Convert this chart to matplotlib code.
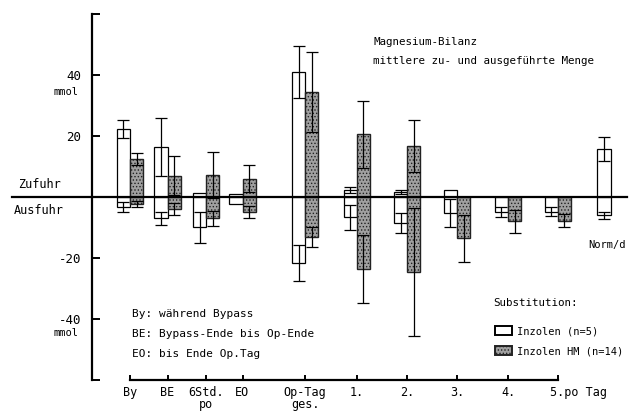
import numpy as np
import matplotlib
matplotlib.use("Agg")
from matplotlib import pyplot as plt
from matplotlib.transforms import ScaledTranslation

# Magnesium-Bilanz: Zufuhr (positiv) und Ausfuhr (negativ), Mittelwert +- SD
kategorien = ['By', 'BE', '6Std.\npo', 'EO', 'Op-Tag\nges.', '1.', '2.', '3.', '4.', '5.po Tag']
xpos = [0, 1, 2.03, 3, 4.67, 6.05, 7.39, 8.72, 10.08, 11.41]

# Inzolen (n=5)
inz_zu = [22.3, 16.4, 1.3, 1.0, 41.0, 2.3, 1.6, 2.3, 0.0, 0.0]
inz_zu_sd = [3.0, 9.5, 0.0, 0.0, 8.5, 1.0, 0.7, 0.0, 0.0, 0.0]
inz_aus = [-3.3, -7.0, -10.0, -2.3, -21.6, -6.7, -8.5, -5.3, -5.0, -4.8]
inz_aus_sd = [1.5, 2.2, 5.0, 0.0, 6.0, 4.0, 3.2, 4.5, 1.7, 1.5]

# Inzolen HM (n=14)
hm_zu = [12.5, 7.0, 7.3, 6.0, 34.4, 20.6, 16.7, 0.0, 0.0, 0.0]
hm_zu_sd = [2.0, 6.5, 7.5, 4.5, 13.0, 11.0, 8.5, 0.0, 0.0, 0.0]
hm_aus = [-2.3, -4.0, -7.0, -5.0, -13.0, -23.6, -24.6, -13.5, -8.0, -7.8]
hm_aus_sd = [1.0, 2.0, 2.5, 2.0, 3.3, 11.0, 21.0, 7.7, 3.7, 2.2]

# Norm pro Tag
norm_x = 12.64
norm_zu, norm_zu_sd = 15.7, 3.9
norm_aus, norm_aus_sd = -6.0, 1.2

yticks = [-60, -40, -20, 0, 20, 40, 60]
ylabels = ['', '-40', '-20', '', '20', '40', '']

#================================
#        figura
#================================
W, H = 630, 418
plt.rcParams['font.family'] = ['DejaVu Sans Mono']
plt.rcParams['hatch.linewidth'] = 0.6
fig = plt.figure(figsize=(W / 100., H / 100.), dpi=100)
ax = fig.add_axes([0, 0, 1, 1])

# 1 unita' x = 37.5 px, 1 mmol = 3.05 px, origine in (130, 197) px
ax.set_xlim(-130 / 37.5, (W - 130) / 37.5)
ax.set_ylim((197 - H) / 3.05, 197 / 3.05)

def px(x, y):
    # pixel -> frazione di figura
    return x / W, 1 - y / H

w = 0.35
xx = np.array(xpos)
ekw = dict(fmt='none', ecolor='black', elinewidth=0.9, capsize=4.5, capthick=0.9)

# barre aperte (Inzolen)
for vals, sds in [(inz_zu, inz_zu_sd), (inz_aus, inz_aus_sd)]:
    ax.bar(xx - w / 2, vals, w, facecolor='white', edgecolor='black', linewidth=0.9, zorder=2)
    m = np.array(sds) > 0
    ax.errorbar((xx - w / 2)[m], np.array(vals)[m], yerr=np.array(sds)[m], zorder=3, **ekw)

# barre tratteggiate (Inzolen HM)
for vals, sds in [(hm_zu, hm_zu_sd), (hm_aus, hm_aus_sd)]:
    ax.bar(xx + w / 2, vals, w, facecolor='#a0a0a0', edgecolor='#222222', hatch='.....',
           linewidth=1.0, zorder=2)
    m = np.array(sds) > 0
    ax.errorbar((xx + w / 2)[m], np.array(vals)[m], yerr=np.array(sds)[m], zorder=3, **ekw)

# norma
ax.bar([norm_x, norm_x], [norm_zu, norm_aus], w * 1.05, facecolor='white', edgecolor='black',
       linewidth=0.9, zorder=2)
ax.errorbar([norm_x, norm_x], [norm_zu, norm_aus], yerr=[norm_zu_sd, norm_aus_sd], zorder=3, **ekw)

# linea dello zero
ax.plot([(12 - 130) / 37.5, (627 - 130) / 37.5], [0, 0], color='black', lw=1.6, zorder=4)

# assi
for s in ['top', 'right']:
    ax.spines[s].set_visible(False)
ax.spines['left'].set_position(('data', (92 - 130) / 37.5))
ax.spines['left'].set_bounds(-60, 60)
ax.spines['left'].set_linewidth(1.6)
ax.spines['bottom'].set_position(('data', -60))
ax.spines['bottom'].set_bounds(xpos[0], xpos[-1])
ax.spines['bottom'].set_linewidth(1.6)

ax.set_yticks(yticks, ylabels)
ax.tick_params(axis='y', direction='in', length=6, width=1.4, pad=8, labelsize=9)
ax.set_xticks(xpos, kategorien)
ax.tick_params(axis='x', direction='in', length=3.5, width=1.4, pad=4, labelsize=8.5)
for lab in ax.get_xticklabels():
    lab.set_linespacing(0.95)
last = ax.get_xticklabels()[-1]
last.set_horizontalalignment('left')
last.set_transform(last.get_transform() + ScaledTranslation(-8 / 100., 0, fig.dpi_scale_trans))

# testi
fig.text(*px(79, 92), 'mmol', ha='right', va='center', fontsize=7.5)
fig.text(*px(79, 333), 'mmol', ha='right', va='center', fontsize=7.5)
fig.text(*px(18, 184), 'Zufuhr', ha='left', va='center', fontsize=8.5)
fig.text(*px(14, 211), 'Ausfuhr', ha='left', va='center', fontsize=8.5)
fig.text(*px(373, 42), 'Magnesium-Bilanz', ha='left', va='center', fontsize=7.8)
fig.text(*px(373, 61), 'mittlere zu- und ausgeführte Menge', ha='left', va='center', fontsize=7.8)
fig.text(*px(626, 245), 'Norm/d', ha='right', va='center', fontsize=7.5)
fig.text(*px(132, 314), 'By: während Bypass', ha='left', va='center', fontsize=8)
fig.text(*px(132, 334), 'BE: Bypass-Ende bis Op-Ende', ha='left', va='center', fontsize=8)
fig.text(*px(132, 354), 'EO: bis Ende Op.Tag', ha='left', va='center', fontsize=8)
fig.text(*px(493, 303), 'Substitution:', ha='left', va='center', fontsize=7.8)

# legenda
h1 = plt.Rectangle((0, 0), 1, 1, facecolor='white', edgecolor='black', linewidth=1.4)
h2 = plt.Rectangle((0, 0), 1, 1, facecolor='#a0a0a0', edgecolor='#222222', hatch='.....', linewidth=1.4)
leg = ax.legend([h1, h2], ['Inzolen (n=5)', 'Inzolen HM (n=14)'],
                frameon=False, loc='upper left', bbox_to_anchor=px(486, 317),
                bbox_transform=fig.transFigure, fontsize=7.5,
                handlelength=1.6, handleheight=0.9, handletextpad=0.5, labelspacing=0.95,
                borderpad=0.4)

fig.savefig('out.png', dpi=100)
